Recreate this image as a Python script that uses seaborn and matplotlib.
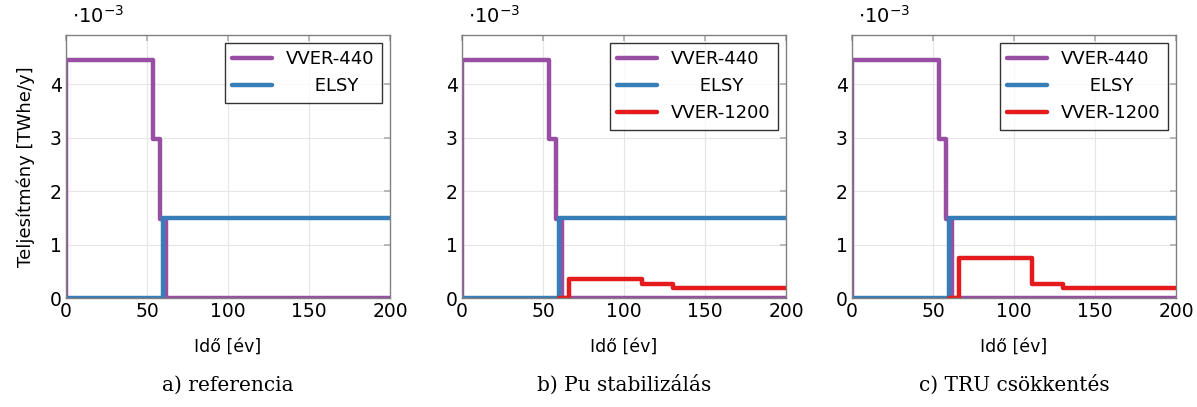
import matplotlib.pyplot as plt
import seaborn as sns
import pandas as pd

# --- Data (values in 1e-3 TWhe/y) ---
vver440_x = [0, 0, 54, 58, 62, 200]
vver440_y = [0, 4.45, 2.97, 1.48, 0, 0]

elsy_x = [0, 60, 200]
elsy_y = [0, 1.5, 1.5]

vver1200_x = [60, 66, 111, 130, 200]
vver1200_b_y = [0, 0.36, 0.26, 0.19, 0.19]
vver1200_c_y = [0, 0.75, 0.26, 0.19, 0.19]

captions = ['a) referencia', 'b) Pu stabilizálás', 'c) TRU csökkentés']
x_ticks = [0, 50, 100, 150, 200]
y_ticks = [0, 1, 2, 3, 4]

# --- Style ---
sns.set_theme(style="white")
plt.rcParams['font.family'] = ['DejaVu Sans']
plt.rcParams['text.color'] = 'black'
plt.rcParams['axes.labelcolor'] = 'black'
pal = sns.color_palette("Set1")
c_purple, c_blue, c_red = pal[3], pal[1], pal[0]

fig = plt.figure(figsize=(11.97, 4.07), dpi=100)
lefts = [66, 462, 852]
axes = [fig.add_axes([l / 1197, 1 - 298 / 407, 324 / 1197, 263 / 407]) for l in lefts]

for i, ax in enumerate(axes):
    sns.lineplot(x=vver440_x, y=vver440_y, ax=ax, color=c_purple, lw=3.2,
                 drawstyle='steps-post', estimator=None, sort=False, label='VVER-440')
    sns.lineplot(x=elsy_x, y=elsy_y, ax=ax, color=c_blue, lw=3.2,
                 drawstyle='steps-post', estimator=None, sort=False, label='     ELSY')
    if i > 0:
        red = vver1200_b_y if i == 1 else vver1200_c_y
        sns.lineplot(x=vver1200_x, y=red, ax=ax, color=c_red, lw=3.2,
                     drawstyle='steps-post', estimator=None, sort=False, label='VVER-1200')

    ax.set_xlim(0, 200)
    ax.set_ylim(0, 4.92)
    ax.set_xticks(x_ticks)
    ax.set_yticks(y_ticks)
    ax.grid(True, color='#e6e6e6', lw=0.8)
    ax.set_axisbelow(True)
    ax.tick_params(direction='in', length=4, color='#b0b0b0', labelsize=13.5,
                   labelcolor='black', top=True, right=True, pad=3)
    for s in ax.spines.values():
        s.set_color('#808080')
        s.set_linewidth(1.0)

    ax.set_xlabel('Idő [év]', fontsize=12.5, labelpad=12)
    ax.set_ylabel('Teljesítmény [TWhe/y]' if i == 0 else '', fontsize=13, labelpad=11)
    ax.text(0.02, 1.03, r'$\cdot 10^{-3}$', transform=ax.transAxes,
            fontsize=14, ha='left', va='bottom')

    leg = ax.legend(loc='upper right', fontsize=13, frameon=True, fancybox=False,
                    borderaxespad=0.45, handlelength=2.2, borderpad=0.4,
                    labelspacing=0.5)
    leg.get_frame().set_edgecolor('black')
    leg.get_frame().set_linewidth(1.0)

    fig.text((lefts[i] + 162) / 1197, 1 - 385 / 407, captions[i],
             ha='center', va='center', fontsize=14.5, family='DejaVu Serif')

fig.savefig('out.png', dpi=100)
